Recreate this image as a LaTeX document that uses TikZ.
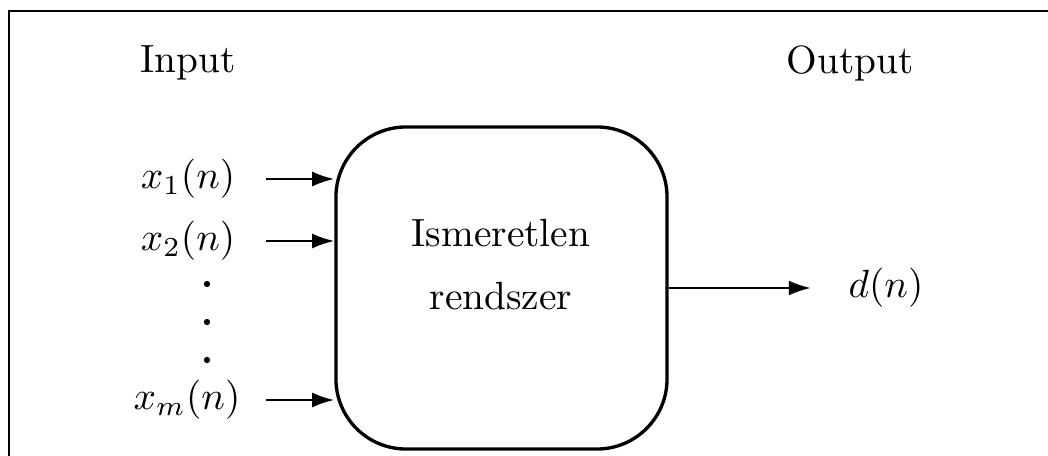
\documentclass[tikz,border=0pt]{standalone}
\usepackage{amsmath}
\usepackage{tikz}
\usetikzlibrary{arrows.meta}

\begin{document}
\begin{tikzpicture}[x=0.254pt,y=-0.254pt,
  arr/.style={-{Latex[length=5.6pt,width=3.8pt]},line width=0.6pt},
  sysbox/.style={draw,line width=0.85pt,rounded corners=17.8pt,minimum width=84.1pt,minimum height=81.8pt,inner sep=0pt},
  sig/.style={inner sep=0pt}
]
\useasboundingbox (0,0) rectangle (1048,456);
\draw[line width=0.6pt] (9,470) -- (9,11) -- (1048,11);

\node (input) at (188,63) {Input};
\node (output) at (850,63) {Output};

\node[sysbox] (box) at (501.5,288) {};
\node[align=center] (boxtext) at (501,265) {Ismeretlen\\[4pt] rendszer};

\node[sig] (x1) at (188,179) {$x_1(n)$};
\node[sig] (x2) at (188,241) {$x_2(n)$};
\node[sig] (xm) at (187,400) {$x_m(n)$};
\foreach \y in {284,322,360}
  \fill (207,\y) circle (0.8pt);

\draw[arr,shorten <=7.6pt] (x1.east) -- (box.west |- x1.east);
\draw[arr,shorten <=7.6pt] (x2.east) -- (box.west |- x2.east);
\draw[arr,shorten <=7.6pt] (x1.east |- xm.east) -- (box.west |- xm.east);

\node[sig] (dn) at (886,288) {$d(n)$};
\draw[arr,shorten >=9.4pt] (box.east) -- (box.east -| dn.west);
\end{tikzpicture}
\end{document}
